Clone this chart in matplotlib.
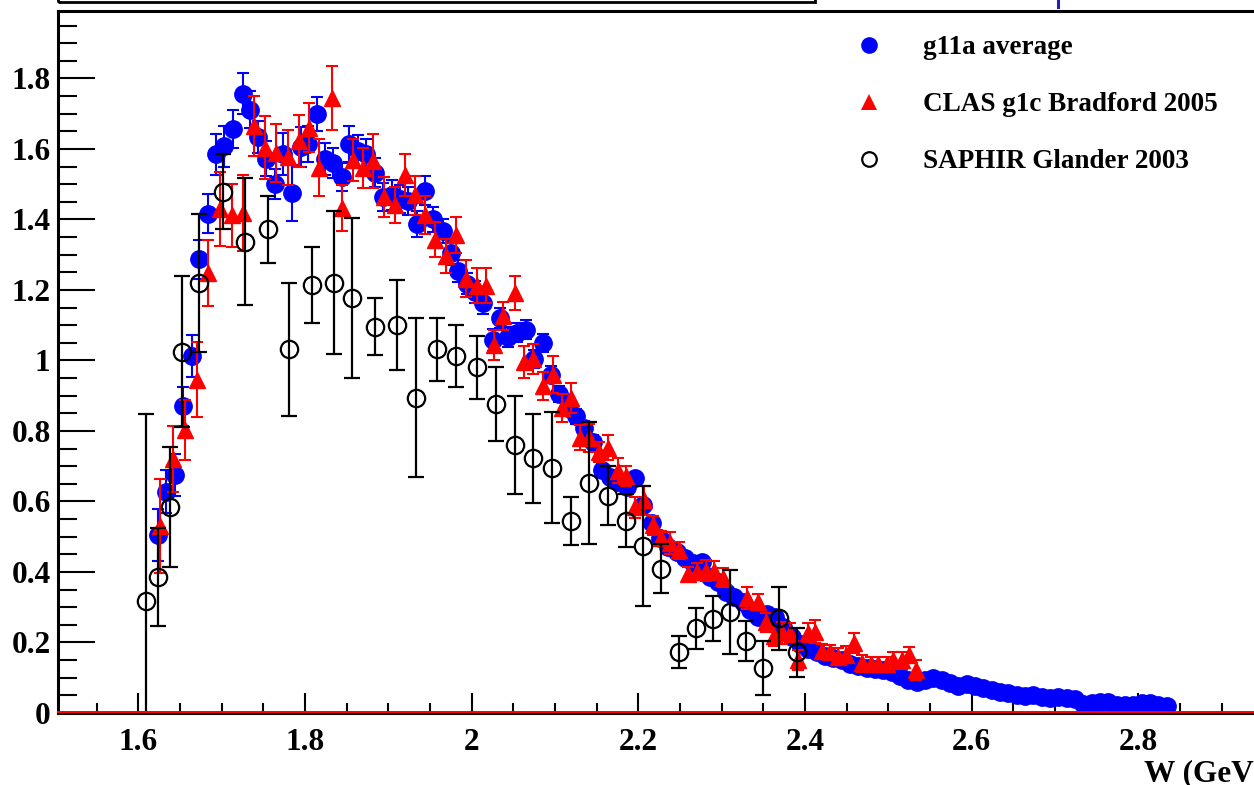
import matplotlib
matplotlib.use("Agg")
import matplotlib.pyplot as plt
from matplotlib.lines import Line2D
from matplotlib.patches import Rectangle
from matplotlib.ticker import MultipleLocator, FuncFormatter
import matplotlib.transforms as mtransforms

# ---------------- data ----------------
g11a_w = [1.624, 1.633, 1.644, 1.653, 1.664, 1.673, 1.683, 1.693, 1.703, 1.713,
          1.725, 1.734, 1.744, 1.753, 1.764, 1.774, 1.784, 1.795, 1.804, 1.814,
          1.824, 1.834, 1.844, 1.853, 1.864, 1.873, 1.884, 1.893, 1.904, 1.914,
          1.924, 1.934, 1.944, 1.954, 1.965, 1.975, 1.984, 1.994, 2.004, 2.014,
          2.025, 2.034, 2.044, 2.054, 2.065, 2.075, 2.085, 2.095, 2.105, 2.115,
          2.125, 2.135, 2.145, 2.156, 2.166, 2.175, 2.186, 2.196, 2.205, 2.216,
          2.226, 2.235, 2.246, 2.256, 2.265, 2.276, 2.286, 2.296, 2.305, 2.315,
          2.325, 2.334, 2.344, 2.354, 2.364, 2.374, 2.384, 2.394, 2.404, 2.414,
          2.424, 2.434, 2.444, 2.454, 2.464, 2.474, 2.484, 2.494, 2.504, 2.514,
          2.524, 2.534, 2.544, 2.554, 2.564, 2.574, 2.584, 2.594, 2.604, 2.614,
          2.624, 2.634, 2.644, 2.654, 2.664, 2.674, 2.684, 2.694, 2.704, 2.714,
          2.724, 2.734, 2.744, 2.754, 2.764, 2.774, 2.784, 2.794, 2.804, 2.814,
          2.824, 2.834]
g11a_val = [0.505, 0.628, 0.675, 0.870, 1.012, 1.287, 1.416, 1.585, 1.607, 1.657,
            1.757, 1.711, 1.634, 1.572, 1.501, 1.586, 1.475, 1.606, 1.614, 1.699,
            1.572, 1.560, 1.521, 1.614, 1.594, 1.586, 1.533, 1.464, 1.469, 1.458,
            1.452, 1.387, 1.482, 1.400, 1.367, 1.305, 1.254, 1.218, 1.194, 1.163,
            1.058, 1.121, 1.067, 1.078, 1.087, 1.004, 1.050, 0.959, 0.905, 0.865,
            0.841, 0.808, 0.770, 0.689, 0.670, 0.656, 0.642, 0.667, 0.590, 0.539,
            0.496, 0.472, 0.458, 0.440, 0.426, 0.429, 0.387, 0.372, 0.344, 0.330,
            0.316, 0.292, 0.273, 0.280, 0.273, 0.245, 0.215, 0.195, 0.182, 0.172,
            0.163, 0.157, 0.150, 0.140, 0.133, 0.128, 0.124, 0.121, 0.115, 0.104,
            0.094, 0.089, 0.093, 0.098, 0.095, 0.085, 0.076, 0.083, 0.076, 0.070,
            0.064, 0.060, 0.056, 0.051, 0.047, 0.050, 0.046, 0.042, 0.046, 0.042,
            0.041, 0.025, 0.028, 0.032, 0.032, 0.024, 0.023, 0.024, 0.028, 0.028,
            0.023, 0.019]
g11a_err = [0.075, 0.060, 0.060, 0.055, 0.060, 0.055, 0.055, 0.058, 0.057, 0.054,
            0.057, 0.052, 0.046, 0.050, 0.043, 0.060, 0.080, 0.057, 0.050, 0.049,
            0.045, 0.043, 0.040, 0.050, 0.045, 0.043, 0.040, 0.040, 0.043, 0.040,
            0.040, 0.038, 0.040, 0.035, 0.035, 0.033, 0.032, 0.030, 0.030, 0.030,
            0.030, 0.028, 0.028, 0.027, 0.027, 0.026, 0.025, 0.024, 0.022, 0.021,
            0.020, 0.019, 0.018, 0.017, 0.016, 0.016, 0.015, 0.015, 0.014, 0.013,
            0.013, 0.012, 0.012, 0.011, 0.011, 0.011, 0.010, 0.010, 0.010, 0.009,
            0.009, 0.009, 0.008, 0.008, 0.008, 0.008, 0.007, 0.007, 0.007, 0.007,
            0.006, 0.006, 0.006, 0.006, 0.006, 0.006, 0.005, 0.005, 0.005, 0.005,
            0.005, 0.005, 0.005, 0.005, 0.005, 0.004, 0.004, 0.004, 0.004, 0.004,
            0.004, 0.004, 0.004, 0.003, 0.003, 0.003, 0.003, 0.003, 0.003, 0.003,
            0.003, 0.003, 0.003, 0.003, 0.003, 0.003, 0.003, 0.003, 0.003, 0.003,
            0.003, 0.003]

clas_w = [1.626, 1.642, 1.656, 1.670, 1.684, 1.698, 1.712, 1.726, 1.739, 1.752,
          1.765, 1.779, 1.793, 1.805, 1.817, 1.832, 1.844, 1.857, 1.869, 1.882,
          1.895, 1.908, 1.920, 1.932, 1.944, 1.956, 1.969, 1.981, 1.993, 2.006,
          2.017, 2.027, 2.038, 2.052, 2.063, 2.074, 2.086, 2.097, 2.108, 2.119,
          2.130, 2.141, 2.153, 2.163, 2.175, 2.185, 2.196, 2.207, 2.217, 2.227,
          2.238, 2.249, 2.259, 2.270, 2.281, 2.291, 2.302, 2.330, 2.343, 2.353,
          2.363, 2.372, 2.382, 2.392, 2.403, 2.412, 2.420, 2.430, 2.439, 2.449,
          2.459, 2.469, 2.479, 2.488, 2.498, 2.506, 2.516, 2.525, 2.533]
clas_val = [0.530, 0.720, 0.803, 0.945, 1.248, 1.430, 1.412, 1.418, 1.665, 1.603,
            1.588, 1.576, 1.623, 1.660, 1.546, 1.745, 1.433, 1.569, 1.546, 1.566,
            1.464, 1.442, 1.525, 1.468, 1.412, 1.343, 1.296, 1.356, 1.232, 1.212,
            1.212, 1.044, 1.126, 1.191, 0.996, 1.004, 0.928, 0.960, 0.865, 0.894,
            0.781, 0.780, 0.741, 0.753, 0.687, 0.672, 0.583, 0.603, 0.533, 0.496,
            0.482, 0.462, 0.394, 0.401, 0.404, 0.404, 0.384, 0.326, 0.315, 0.257,
            0.217, 0.228, 0.228, 0.150, 0.227, 0.231, 0.176, 0.173, 0.160, 0.165,
            0.198, 0.141, 0.139, 0.139, 0.139, 0.150, 0.150, 0.164, 0.122]
clas_err = [0.133, 0.094, 0.085, 0.106, 0.095, 0.104, 0.089, 0.107, 0.086, 0.089,
            0.083, 0.078, 0.073, 0.070, 0.081, 0.090, 0.065, 0.060, 0.057, 0.077,
            0.056, 0.051, 0.060, 0.055, 0.053, 0.051, 0.048, 0.050, 0.053, 0.050,
            0.050, 0.043, 0.040, 0.049, 0.046, 0.043, 0.039, 0.053, 0.039, 0.043,
            0.036, 0.040, 0.028, 0.035, 0.035, 0.029, 0.031, 0.041, 0.027, 0.019,
            0.030, 0.024, 0.021, 0.024, 0.030, 0.026, 0.026, 0.030, 0.023, 0.026,
            0.028, 0.031, 0.026, 0.028, 0.027, 0.033, 0.020, 0.020, 0.024, 0.024,
            0.028, 0.024, 0.019, 0.019, 0.019, 0.024, 0.024, 0.023, 0.028]

saphir_w = [1.609, 1.624, 1.638, 1.652, 1.673, 1.701, 1.728, 1.755, 1.781, 1.808,
            1.835, 1.856, 1.884, 1.910, 1.933, 1.958, 1.981, 2.006, 2.029, 2.052,
            2.074, 2.096, 2.119, 2.141, 2.163, 2.185, 2.205, 2.227, 2.249, 2.269,
            2.290, 2.310, 2.329, 2.350, 2.369, 2.390]
saphir_val = [0.318, 0.387, 0.584, 1.025, 1.219, 1.479, 1.337, 1.372, 1.032, 1.214,
              1.221, 1.176, 1.096, 1.101, 0.894, 1.032, 1.013, 0.980, 0.876, 0.759,
              0.722, 0.696, 0.545, 0.653, 0.616, 0.545, 0.474, 0.409, 0.174, 0.240,
              0.267, 0.286, 0.204, 0.127, 0.269, 0.172]
saphir_err = [0.530, 0.139, 0.170, 0.214, 0.195, 0.106, 0.181, 0.095, 0.189, 0.108,
              0.202, 0.227, 0.081, 0.128, 0.225, 0.089, 0.088, 0.088, 0.105, 0.139,
              0.125, 0.158, 0.069, 0.173, 0.084, 0.075, 0.170, 0.069, 0.045, 0.058,
              0.064, 0.120, 0.057, 0.076, 0.089, 0.069]

labels = ["g11a average", "CLAS g1c Bradford 2005", "SAPHIR Glander 2003"]
x_title = "W (GeV)"

# ---------------- figure ----------------
plt.rcParams['font.family'] = ['Liberation Serif', 'DejaVu Serif']
plt.rcParams['font.weight'] = 'bold'

W, H = 1254, 785
fig = plt.figure(figsize=(W / 100, H / 100), dpi=100)
left_px, right_px, bot_px, top_px = 57.5, 1305.0, 713.0, 10.7
ax = fig.add_axes([left_px / W, (H - bot_px) / H,
                   (right_px - left_px) / W, (bot_px - top_px) / H])
ax.set_xlim(1.503, 3.0)
ax.set_ylim(0, 1.992)

blue, red = '#0000ff', '#ff0000'

ax.errorbar(g11a_w, g11a_val, yerr=g11a_err, fmt='o', color=blue, ms=12.5,
            mec=blue, mfc=blue, elinewidth=1.5, capsize=4.5, capthick=1.5, zorder=3)
ax.errorbar(clas_w, clas_val, yerr=clas_err, fmt='^', color=red, ms=12,
            mec=red, mfc=red, elinewidth=1.5, capsize=4.5, capthick=1.5, zorder=4)
ax.errorbar(saphir_w, saphir_val, yerr=saphir_err, fmt='o', color='black', ms=12.5,
            mec='black', mfc='none', mew=1.6, elinewidth=1.6, capsize=5.5,
            capthick=1.6, zorder=5)

# red baseline at zero (drawn just above the axis line)
off = mtransforms.offset_copy(ax.transData, fig=fig, x=0, y=1.5, units='dots')
ax.plot([1.503, 3.0], [0, 0], color=red, lw=1.4, transform=off, zorder=6,
        clip_on=False)

# axes styling
for s in ['left', 'bottom', 'top', 'right']:
    ax.spines[s].set_linewidth(2.2)
    ax.spines[s].set_zorder(5.5)

ax.xaxis.set_major_locator(MultipleLocator(0.2))
ax.xaxis.set_minor_locator(MultipleLocator(0.05))
ax.yaxis.set_major_locator(MultipleLocator(0.2))
ax.yaxis.set_minor_locator(MultipleLocator(0.05))
xfmt = FuncFormatter(lambda v, p: f"{round(v, 3):g}" if v < 2.95 else "")
yfmt = FuncFormatter(lambda v, p: f"{round(v, 3):g}")
ax.xaxis.set_major_formatter(xfmt)
ax.yaxis.set_major_formatter(yfmt)

ax.tick_params(axis='y', which='major', direction='in', length=26.5, width=1.5,
               labelsize=22.5, pad=5)
ax.tick_params(axis='y', which='minor', direction='in', length=13.5, width=1.5)
ax.tick_params(axis='x', which='major', direction='in', length=14.4, width=1.5,
               labelsize=22.5, pad=10.5)
ax.tick_params(axis='x', which='minor', direction='in', length=7.2, width=1.5)
ax.tick_params(top=False, right=False, which='both')
for lab in ax.get_xticklabels() + ax.get_yticklabels():
    lab.set_fontweight('bold')

# x-axis title (cropped at the right edge like the reference)
fig.text(1144 / W, (H - 781) / H, x_title, fontsize=22.5, fontweight='bold',
         ha='left', va='baseline')

# legend drawn manually
leg_x_marker = 869 / W
leg_x_text = 923 / W
rows_base = [54, 111, 168]
handles = [dict(marker='o', color=blue, mfc=blue, ms=12, mew=0),
           dict(marker='^', color=red, mfc=red, ms=11, mew=0),
           dict(marker='o', color='black', mfc='none', ms=10.5, mew=1.6)]
for lbl, base, h in zip(labels, rows_base, handles):
    yc = (H - (base - 9)) / H
    fig.add_artist(Line2D([leg_x_marker], [yc], linestyle='none',
                          transform=fig.transFigure, **h))
    fig.text(leg_x_text, (H - base) / H, lbl, fontsize=19.5, fontweight='bold',
             ha='left', va='baseline')

# partial title box at the top edge
fig.add_artist(Rectangle((58 / W, (H - 2) / H), (815 - 58) / W, 20 / H,
                         transform=fig.transFigure, fill=False, lw=2.0,
                         edgecolor='black', clip_on=False))
fig.add_artist(Line2D([1058 / W, 1058 / W], [1.0, (H - 7) / H],
                      transform=fig.transFigure, color='#2020c0', lw=2.2))

fig.savefig("out.png", dpi=100)
